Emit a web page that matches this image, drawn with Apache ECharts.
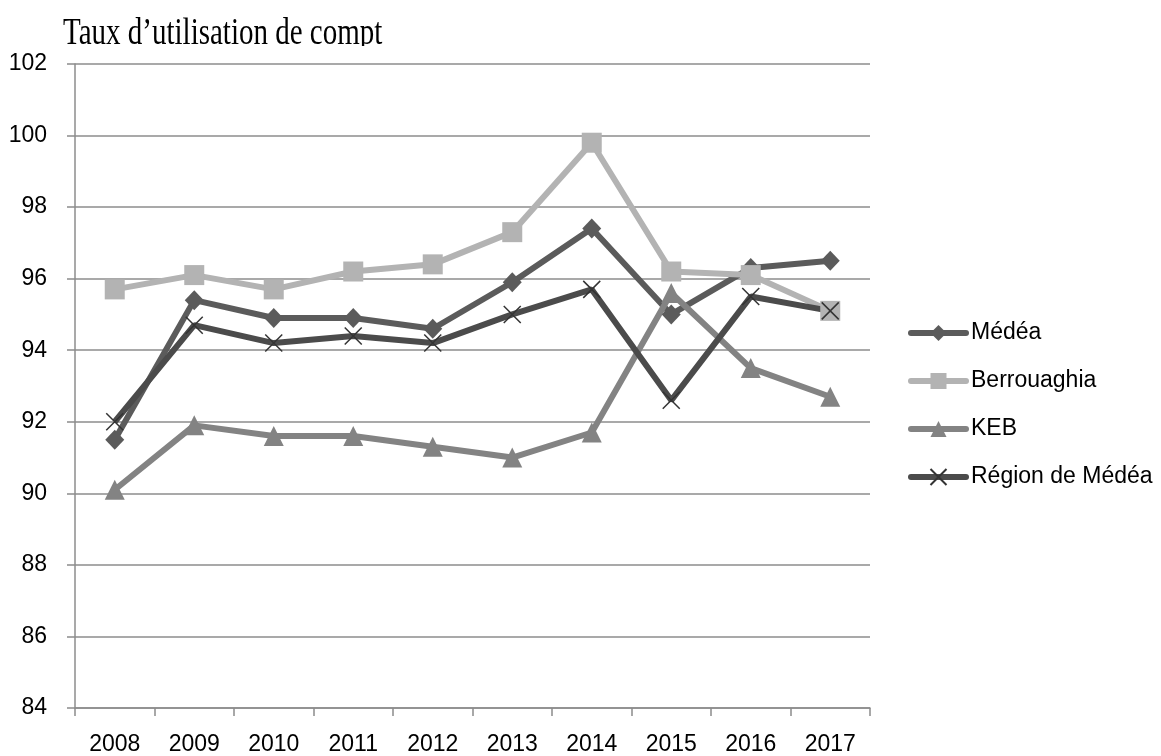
<!DOCTYPE html>
<html>
<head>
<meta charset="utf-8">
<title>Taux d'utilisation de compt</title>
<script src="https://cdn.jsdelivr.net/npm/echarts@6/dist/echarts.min.js"></script>
<style>
  html, body { margin: 0; padding: 0; background: #fff; }
  #chart { width: 1161px; height: 756px; }
</style>
</head>
<body>
<div id="chart"></div>
<script>
// Years on the horizontal axis
const years = ['2008', '2009', '2010', '2011', '2012', '2013', '2014', '2015', '2016', '2017'];

// Utilisation rate per unit (%)
const medea       = [91.5, 95.4, 94.9, 94.9, 94.6, 95.9, 97.4, 95.0, 96.3, 96.5];
const berrouaghia = [95.7, 96.1, 95.7, 96.2, 96.4, 97.3, 99.8, 96.2, 96.1, 95.1];
const keb         = [90.1, 91.9, 91.6, 91.6, 91.3, 91.0, 91.7, 95.6, 93.5, 92.7];
const region      = [92.0, 94.7, 94.2, 94.4, 94.2, 95.0, 95.7, 92.6, 95.5, 95.1];

const titleText = 'Taux d\u2019utilisation de compt';

const labelFont = 'Liberation Sans';
const gridGrey = '#8c8c8c';

const chart = echarts.init(document.getElementById('chart'), null, { renderer: 'canvas' });

function lineSeries(name, data, color, symbol, size, extra) {
  return Object.assign({
    name: name,
    type: 'line',
    data: data,
    symbol: symbol,
    symbolSize: size,
    showAllSymbol: true,
    lineStyle: { color: color, width: 6 },
    itemStyle: { color: color },
    emphasis: { disabled: true }
  }, extra || {});
}

chart.setOption({
  animation: false,
  backgroundColor: '#ffffff',
  grid: { left: 75, right: 291, top: 64, bottom: 46 },
  graphic: [
    {
      type: 'group',
      x: 63,
      y: 46,
      scaleY: 1.32,
      children: [
        {
          type: 'text',
          x: 0,
          y: -9,
          style: {
            text: titleText,
            font: '29px "Liberation Serif"',
            fill: '#000',
            verticalAlign: 'middle',
            align: 'left'
          }
        }
      ]
    },
    {
      type: 'rect',
      shape: { x: 55, y: 46, width: 360, height: 12 },
      style: { fill: '#ffffff' },
      z: 10
    }
  ],
  legend: {
    orient: 'vertical',
    left: 908,
    top: 321,
    padding: 0,
    itemWidth: 55,
    itemHeight: 20,
    itemGap: 24,
    lineStyle: { width: 6, cap: 'round' },
    textStyle: { fontFamily: labelFont, fontSize: 23, lineHeight: 24, color: '#000' },
    data: ['Médéa', 'Berrouaghia', 'KEB', 'Région de Médéa']
  },
  xAxis: {
    type: 'category',
    data: years,
    boundaryGap: true,
    axisLine: { lineStyle: { color: gridGrey, width: 1.5 } },
    axisTick: { show: true, length: 8, lineStyle: { color: gridGrey, width: 1.5 } },
    axisLabel: { fontFamily: labelFont, fontSize: 23, color: '#000', margin: 25 },
    splitLine: { show: false }
  },
  yAxis: {
    type: 'value',
    min: 84,
    max: 102,
    interval: 2,
    axisLine: { show: true, lineStyle: { color: gridGrey, width: 1.5 } },
    axisTick: { show: true, length: 8, lineStyle: { color: gridGrey, width: 1.5 } },
    axisLabel: { fontFamily: labelFont, fontSize: 23, color: '#000', margin: 28 },
    splitLine: { show: true, lineStyle: { color: gridGrey, width: 1.5 } }
  },
  series: [
    lineSeries('Médéa', medea, '#5b5b5b', 'diamond', [19, 20]),
    lineSeries('Berrouaghia', berrouaghia, '#b3b3b3', 'rect', 20),
    lineSeries('KEB', keb, '#838383', 'triangle', 20),
    lineSeries('Région de Médéa', region, '#4b4b4b', 'path://M0,0L10,10M10,0L0,10', 17, {
      itemStyle: { color: 'rgba(0,0,0,0)', borderColor: '#333333', borderWidth: 1.5 }
    })
  ]
});
</script>
</body>
</html>
